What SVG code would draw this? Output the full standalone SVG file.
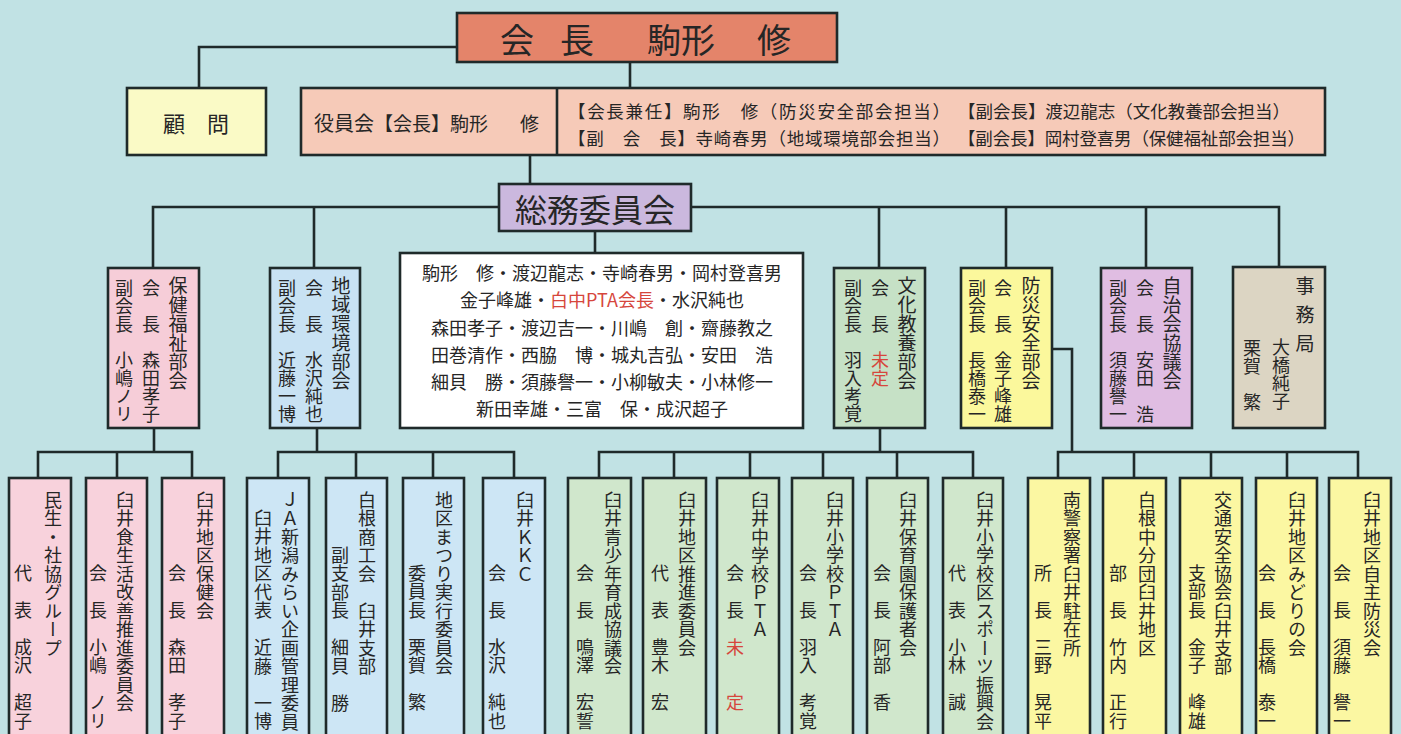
<svg xmlns="http://www.w3.org/2000/svg" width="1401" height="734" viewBox="0 0 1401 734">
<style>
.bx{stroke:#1f2a2a;stroke-width:2.6}
.ln{fill:none;stroke:#1f2a2a;stroke-width:2.6}
text{font-family:"Noto Sans CJK JP","Noto Sans",sans-serif;fill:#262626}
.h{dominant-baseline:central}
.vh{writing-mode:vertical-rl;font-size:19px}
.vt{writing-mode:vertical-rl;font-size:18px}
.vb{writing-mode:vertical-rl;font-size:18px;letter-spacing:0.5px}
.red{fill:#d6463c}
.pk{fill:#f8d2dc}.bl{fill:#cde6f5}.gr{fill:#d0e7cc}.ye{fill:#fbf7a2}
</style>
<rect width="1401" height="734" fill="#c1e2e4"/>
<g id="connectors" class="ln">
<path d="M457 47H199V88"/>
<path d="M630 62V88"/>
<path d="M530 155V184"/>
<path d="M499 207H153V268M314 207V268"/>
<path d="M691 207H1279V267M879 207V268M1006 207V268M1146 207V268"/>
<path d="M595 231V253"/>
<path d="M154 428V452M38 478V452H192V478M117 452V478"/>
<path d="M317 428V452M278 478V452H514V478M356 452V478M433 452V478"/>
<path d="M880 428V452M599 478V452H973V478M674 452V478M750 452V478M823 452V478M897 452V478"/>
<path d="M1052 349H1072V452M1058 478V452H1358V478M1134 452V478M1211 452V478M1287 452V478"/>
</g>
<g id="chairman">
<rect class="bx" x="457" y="13" width="380" height="49" fill="#e4846a"/>
<text class="h" y="38" font-size="34"><tspan x="500">会</tspan><tspan x="560">長</tspan><tspan x="647">駒形</tspan><tspan x="757">修</tspan></text>
</g>
<g id="komon">
<rect class="bx" x="127" y="88" width="139" height="67" fill="#fafac6"/>
<text class="h" x="196" y="122" font-size="22" text-anchor="middle">顧　問</text>
</g>
<g id="yakuinkai">
<rect class="bx" x="301" y="88" width="1024" height="67" fill="#f6cab8"/>
<path class="ln" d="M557 88V155"/>
<text class="h" y="122"><tspan x="314" font-size="20">役員会</tspan><tspan x="374" font-size="19">【会長】駒形</tspan><tspan x="520" font-size="19">修</tspan></text>
<text class="h" x="568" y="110" font-size="17.5" textLength="382" lengthAdjust="spacing">【会長兼任】駒形　修（防災安全部会担当）</text>
<text class="h" x="958" y="110" font-size="17.5" textLength="332" lengthAdjust="spacing">【副会長】渡辺龍志（文化教養部会担当）</text>
<text class="h" x="568" y="137" font-size="17.5" textLength="382" lengthAdjust="spacing">【副　会　長】寺崎春男（地域環境部会担当）</text>
<text class="h" x="958" y="137" font-size="17.5" textLength="347" lengthAdjust="spacing">【副会長】岡村登喜男（保健福祉部会担当）</text>
</g>
<g id="somu">
<rect class="bx" x="499" y="184" width="192" height="47" fill="#cbb8de"/>
<text class="h" x="595" y="208" font-size="32" text-anchor="middle">総務委員会</text>
</g>
<g id="members">
<rect class="bx" x="400" y="253" width="403" height="175" fill="#ffffff"/>
<g font-size="18" text-anchor="middle">
<text class="h" x="602" y="272">駒形　修・渡辺龍志・寺崎春男・岡村登喜男</text>
<text class="h" x="602" y="299">金子峰雄・<tspan class="red">白中PTA会長</tspan>・水沢純也</text>
<text class="h" x="602" y="327">森田孝子・渡辺吉一・川嶋　創・齋藤教之</text>
<text class="h" x="602" y="354">田巻清作・西脇　博・城丸吉弘・安田　浩</text>
<text class="h" x="602" y="381">細貝　勝・須藤譽一・小柳敏夫・小林修一</text>
<text class="h" x="602" y="408">新田幸雄・三富　保・成沢超子</text>
</g>
</g>
<g id="hoken">
<rect class="bx" x="108" y="268" width="91" height="160" fill="#f6cdd8"/>
<text class="vh" x="178" y="276">保健福祉部会</text>
<text class="vt" x="151" y="279">会　長　森田孝子</text>
<text class="vt" x="124" y="279">副会長　小嶋ノリ</text>
</g>
<g id="chiiki">
<rect class="bx" x="270" y="268" width="90" height="160" fill="#c8e2f3"/>
<text class="vh" x="341" y="276">地域環境部会</text>
<text class="vt" x="314" y="279">会　長　水沢純也</text>
<text class="vt" x="287" y="279">副会長　近藤一博</text>
</g>
<g id="bunka">
<rect class="bx" x="834" y="268" width="91" height="160" fill="#c6e1c6"/>
<text class="vh" x="907" y="276">文化教養部会</text>
<text class="vt" x="880" y="279">会　長　<tspan class="red">未定</tspan></text>
<text class="vt" x="853" y="279">副会長　羽入考覚</text>
</g>
<g id="bousai">
<rect class="bx" x="961" y="268" width="91" height="160" fill="#fbf89c"/>
<text class="vh" x="1031" y="276">防災安全部会</text>
<text class="vt" x="1003" y="279">会　長　金子峰雄</text>
<text class="vt" x="977" y="279">副会長　長橋泰一</text>
</g>
<g id="jichi">
<rect class="bx" x="1101" y="268" width="91" height="160" fill="#e0bde2"/>
<text class="vh" x="1172" y="276">自治会協議会</text>
<text class="vt" x="1145" y="279">会　長　安田　浩</text>
<text class="vt" x="1118" y="279">副会長　須藤譽一</text>
</g>
<g id="jimukyoku">
<rect class="bx" x="1233" y="267" width="92" height="161" fill="#dcd5c3"/>
<text class="vh" x="1305" y="276" letter-spacing="10">事務局</text>
<text class="vt" x="1281" y="338">大橋純子</text>
<text class="vt" x="1252" y="339">栗賀　繁</text>
</g>
<g id="b1"><rect class="bx pk" x="9" y="478" width="62" height="270"/><text class="vb" x="53" y="491">民生・社協グループ</text><text class="vb" x="23" y="564">代　表　成沢　超子</text></g>
<g id="b2"><rect class="bx pk" x="86" y="478" width="61" height="270"/><text class="vb" x="125" y="491">臼井食生活改善推進委員会</text><text class="vb" x="98" y="564">会　長　小嶋　ノリ</text></g>
<g id="b3"><rect class="bx pk" x="162" y="478" width="62" height="270"/><text class="vb" x="205" y="491">臼井地区保健会</text><text class="vb" x="177" y="564">会　長　森田　孝子</text></g>
<g id="b4"><rect class="bx bl" x="247" y="478" width="62" height="270"/><text class="vb" x="290" y="491">ＪＡ新潟みらい企画管理委員</text><text class="vb" x="263" y="509">臼井地区代表　近藤　一博</text></g>
<g id="b5"><rect class="bx bl" x="326" y="478" width="61" height="270"/><text class="vb" x="367" y="491">白根商工会　臼井支部</text><text class="vb" x="340" y="546">副支部長　細貝　勝</text></g>
<g id="b6"><rect class="bx bl" x="403" y="478" width="61" height="270"/><text class="vb" x="444" y="491">地区まつり実行委員会</text><text class="vb" x="417" y="564">委員長　栗賀　繁</text></g>
<g id="b7"><rect class="bx bl" x="483" y="478" width="62" height="270"/><text class="vb" x="525" y="491">臼井ＫＫＣ</text><text class="vb" x="497" y="564">会　長　水沢　純也</text></g>
<g id="b8"><rect class="bx gr" x="568" y="478" width="63" height="270"/><text class="vb" x="613" y="491">臼井青少年育成協議会</text><text class="vb" x="585" y="564">会　長　鳴澤　宏誓</text></g>
<g id="b9"><rect class="bx gr" x="643" y="478" width="63" height="270"/><text class="vb" x="687" y="491">臼井地区推進委員会</text><text class="vb" x="660" y="564">代　表　豊木　宏</text></g>
<g id="b10"><rect class="bx gr" x="717" y="478" width="62" height="270"/><text class="vb" x="760" y="491">臼井中学校ＰＴＡ</text><text class="vb" x="735" y="564">会　長　<tspan class="red">未　　定</tspan></text></g>
<g id="b11"><rect class="bx gr" x="792" y="478" width="61" height="270"/><text class="vb" x="835" y="491">臼井小学校ＰＴＡ</text><text class="vb" x="808" y="564">会　長　羽入　考覚</text></g>
<g id="b12"><rect class="bx gr" x="867" y="478" width="61" height="270"/><text class="vb" x="908" y="491">臼井保育園保護者会</text><text class="vb" x="882" y="564">会　長　阿部　香</text></g>
<g id="b13"><rect class="bx gr" x="943" y="478" width="60" height="270"/><text class="vb" x="985" y="491">臼井小学校区スポーツ振興会</text><text class="vb" x="957" y="564">代　表　小林　誠</text></g>
<g id="b14"><rect class="bx ye" x="1028" y="478" width="62" height="270"/><text class="vb" x="1072" y="491">南警察署臼井駐在所</text><text class="vb" x="1043" y="564">所　長　三野　晃平</text></g>
<g id="b15"><rect class="bx ye" x="1103" y="478" width="63" height="270"/><text class="vb" x="1147" y="491">白根中分団臼井地区</text><text class="vb" x="1118" y="564">部　長　竹内　正行</text></g>
<g id="b16"><rect class="bx ye" x="1180" y="478" width="62" height="270"/><text class="vb" x="1223" y="491">交通安全協会臼井支部</text><text class="vb" x="1197" y="564">支部長　金子　峰雄</text></g>
<g id="b17"><rect class="bx ye" x="1256" y="478" width="61" height="270"/><text class="vb" x="1297" y="491">臼井地区みどりの会</text><text class="vb" x="1267" y="564">会　長　長橋　泰一</text></g>
<g id="b18"><rect class="bx ye" x="1329" y="478" width="62" height="270"/><text class="vb" x="1372" y="491">臼井地区自主防災会</text><text class="vb" x="1342" y="564">会　長　須藤　譽一</text></g>
</svg>
